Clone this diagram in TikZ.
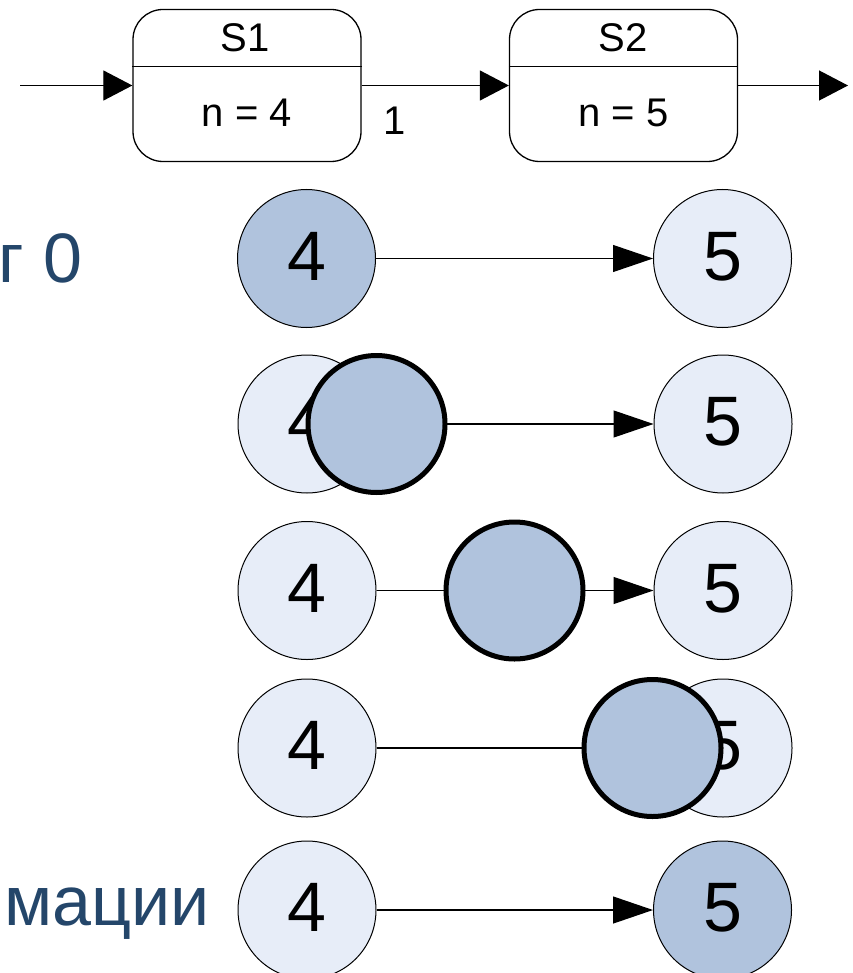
\documentclass[tikz,border=0pt]{standalone}
\usepackage{fontspec}
\setmainfont{Liberation Sans}
\usetikzlibrary{arrows.meta,calc}
\definecolor{tokfill}{RGB}{176,195,221}
\definecolor{palefill}{RGB}{231,237,248}
\definecolor{labelblue}{RGB}{36,70,106}
\begin{document}
\begin{tikzpicture}[x=1pt,y=-1pt,
  statebox/.style={draw, line width=1.3pt, rounded corners=30pt, minimum width=228pt, minimum height=152pt, inner sep=0pt},
  boxtext/.style={font=\fontsize{40}{40}\selectfont, anchor=base, inner sep=0pt},
  topflow/.style={line width=1.2pt, -{Triangle[length=29pt,width=30pt]}},
  flow/.style={line width=1.2pt, -{Triangle[length=40pt,width=27pt]}},
  ball/.style={circle, draw, line width=1pt, minimum size=138pt, inner sep=0pt, text height=50pt, text depth=7pt, font=\fontsize{70}{70}\selectfont},
  pale/.style={ball, fill=palefill},
  filled/.style={ball, fill=tokfill},
  token/.style={circle, draw, line width=5pt, minimum size=137pt, inner sep=0pt, fill=tokfill},
  steplabel/.style={font=\fontsize{70}{70}\selectfont, text=labelblue, anchor=base east, inner sep=0pt}
]
\useasboundingbox (0,0) rectangle (852,973);

% top state boxes
\node[statebox] (S1) at (247,85.5) {};
\node[statebox] (S2) at (623.5,85.5) {};
\draw[line width=1.3pt] ($(S1.north west)+(0,58)$) -- ($(S1.north east)+(0,58)$);
\draw[line width=1.3pt] ($(S2.north west)+(0,58)$) -- ($(S2.north east)+(0,58)$);
\node[boxtext] (s1name) at (245,52) {S1};
\node[boxtext] (s1val) at (247,127) {n = 4};
\node[boxtext] (s2name) at (623,52) {S2};
\node[boxtext] (s2val) at (623.5,127) {n = 5};
\coordinate (in) at (20,85.5);
\coordinate (out) at (848,85.5);
\draw[topflow] (in) -- (S1.west);
\draw[topflow] (S1.east) -- (S2.west);
\node[boxtext] (lab1) at (395,135) {1};
\draw[topflow] (S2.east) -- (out);

% left labels
\node[steplabel] (lab0) at (83,283) {г 0};
\node[steplabel] (labend) at (210,925) {мации};

% row 1
\node[filled] (a1) at (306.5,258.5) {4};
\node[pale] (b1) at (722.5,258.5) {5};
\draw[flow] (a1) -- (b1);

% row 2
\node[pale] (a2) at (307,424) {4};
\node[pale] (b2) at (723,424) {5};
\draw[flow] (a2) -- (b2);
\node[token] (t2) at (376.5,424) {};

% row 3
\node[pale] (a3) at (307,590.5) {4};
\node[pale] (b3) at (723,590.5) {5};
\draw[flow] (a3) -- (b3);
\node[token] (t3) at (514.5,590.5) {};

% row 4
\node[pale] (a4) at (307,748) {4};
\node[pale] (b4) at (723,748) {5};
\draw[flow] (a4) -- (b4);
\node[token] (t4) at (652.5,748) {};

% row 5
\node[pale] (a5) at (307,910) {4};
\node[filled] (b5) at (722.5,910) {5};
\draw[flow] (a5) -- (b5);
\end{tikzpicture}
\end{document}
